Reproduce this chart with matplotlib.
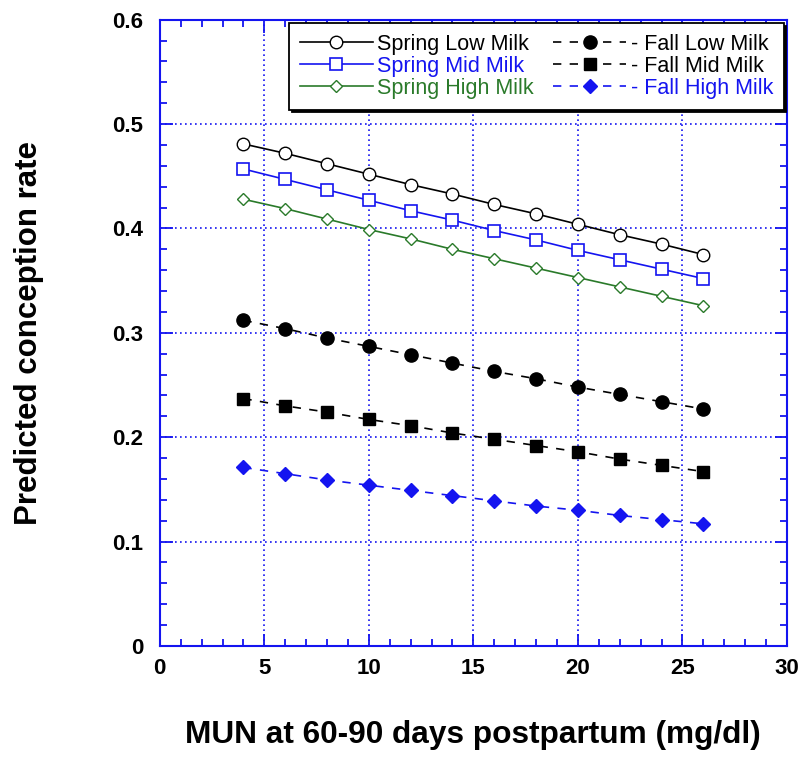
import matplotlib
matplotlib.use("Agg")
import matplotlib.pyplot as plt
from matplotlib.ticker import MultipleLocator

plt.rcParams['font.family'] = ['Liberation Sans', 'DejaVu Sans']

mun = [4, 6, 8, 10, 12, 14, 16, 18, 20, 22, 24, 26]
spring_low = [0.481, 0.472, 0.462, 0.452, 0.442, 0.433, 0.423, 0.414, 0.404, 0.394, 0.385, 0.375]
spring_mid = [0.457, 0.447, 0.437, 0.427, 0.417, 0.408, 0.398, 0.389, 0.379, 0.370, 0.361, 0.352]
spring_high = [0.428, 0.419, 0.409, 0.399, 0.390, 0.380, 0.371, 0.362, 0.353, 0.344, 0.335, 0.326]
fall_low = [0.312, 0.304, 0.295, 0.287, 0.279, 0.271, 0.263, 0.256, 0.248, 0.241, 0.234, 0.227]
fall_mid = [0.237, 0.230, 0.224, 0.217, 0.211, 0.204, 0.198, 0.192, 0.186, 0.179, 0.173, 0.167]
fall_high = [0.171, 0.165, 0.159, 0.154, 0.149, 0.144, 0.139, 0.134, 0.130, 0.125, 0.121, 0.117]

labels = ["Spring Low Milk", "Spring Mid Milk", "Spring High Milk",
          "- Fall Low Milk", "- Fall Mid Milk", "- Fall High Milk"]
yticks = [0, 0.1, 0.2, 0.3, 0.4, 0.5, 0.6]
ytick_labels = ['0', '0.1', '0.2', '0.3', '0.4', '0.5', '0.6']

blue = '#1414f0'
green = '#2a7a2a'

fig = plt.figure(figsize=(8.03, 7.59), dpi=100)
ax = fig.add_axes([0.199, 0.149, 0.781, 0.825])

dash = (0, (5, 5))
ax.plot(mun, spring_low, color='black', lw=1.2, marker='o', ms=9, mfc='white', mec='black', mew=1.0, label=labels[0])
ax.plot(mun, spring_mid, color=blue, lw=1.2, marker='s', ms=9, mfc='white', mec=blue, mew=1.2, label=labels[1])
ax.plot(mun, spring_high, color=green, lw=1.2, marker='D', ms=6, mfc='white', mec=green, mew=1.0, label=labels[2])
ax.plot(mun, fall_low, color='black', lw=1.2, ls=dash, marker='o', ms=9.5, mfc='black', mec='black', label=labels[3])
ax.plot(mun, fall_mid, color='black', lw=1.2, ls=dash, marker='s', ms=9, mfc='black', mec='black', label=labels[4])
ax.plot(mun, fall_high, color=blue, lw=1.2, ls=dash, marker='D', ms=7.5, mfc=blue, mec=blue, label=labels[5])

ax.set_xlim(0, 30)
ax.set_ylim(0, 0.6)
ax.xaxis.set_major_locator(MultipleLocator(5))
ax.xaxis.set_minor_locator(MultipleLocator(1))
ax.yaxis.set_minor_locator(MultipleLocator(0.02))
ax.set_yticks(yticks)
ax.set_yticklabels(ytick_labels)

ax.grid(True, which='major', color=blue, ls=(0, (1, 2)), lw=1.2)
ax.set_axisbelow(True)
for s in ax.spines.values():
    s.set_color(blue)
    s.set_linewidth(1.5)
ax.tick_params(which='both', direction='in', top=True, right=True, color=blue, width=1.3)
ax.tick_params(which='major', length=9, labelsize=16)
ax.tick_params(axis='y', which='major', pad=12)
ax.tick_params(axis='x', which='major', pad=9)
ax.tick_params(which='minor', length=5)
for t in ax.get_xticklabels() + ax.get_yticklabels():
    t.set_fontweight('bold')

ax.set_xlabel("MUN at 60-90 days postpartum (mg/dl)", fontsize=22.8, fontweight='bold', labelpad=29)
ax.set_ylabel("Predicted conception rate", fontsize=22.5, fontweight='bold', labelpad=49)

leg = ax.legend(loc='upper right', ncol=2, fontsize=15.5, frameon=True, fancybox=False,
                shadow={'color': 'black', 'alpha': 1},
                borderaxespad=0.15, handlelength=3.4, handletextpad=0.2, columnspacing=0.9,
                labelspacing=0.05, borderpad=0.5)
leg.get_frame().set_edgecolor('black')
leg.get_frame().set_linewidth(1.3)
leg.get_frame().set_alpha(1)
text_colors = ['black', blue, green, 'black', 'black', blue]
for t, c in zip(leg.get_texts(), text_colors):
    t.set_color(c)

fig.savefig("out.png", dpi=100)
